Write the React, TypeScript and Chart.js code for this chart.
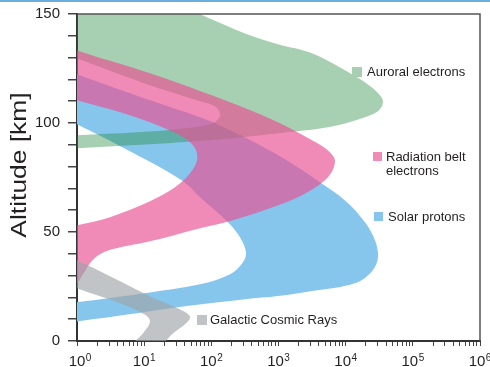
import React, { useEffect, useRef } from 'react';
import { Chart, registerables } from 'chart.js';

Chart.register(...registerables);

// ---------- data ----------
const SERIES_NAMES = ['Auroral electrons', 'Radiation belt electrons', 'Solar protons', 'Galactic Cosmic Rays'];
const LEGEND_TEXT = [['Auroral electrons'], ['Radiation belt', 'electrons'], ['Solar protons'], ['Galactic Cosmic Rays']];

// outlines of each band (energy flux in x, altitude in km) traced around the region
const auroralX = [0.28, 17, 68, 317, 983, 3150, 9770, 21500, 32400, 36000, 30300, 17500, 5460, 983, 135, 12.2, 1, 0.4, 0.4, 1, 7.8, 43, 95, 126, 135, 113, 68, 12.2, 1, 0.4];
const auroralY = [165, 157.6, 149.9, 141.1, 136.1, 132.0, 124.2, 117.7, 112.7, 109.5, 105.4, 102.2, 98.0, 95.3, 92.5, 90.2, 88.4, 88.0, 94.0, 94.4, 95.7, 97.6, 99.4, 101.7, 104.4, 107.7, 110.0, 117.3, 129.7, 134.3];

const radBeltX = [0.4, 1, 12.2, 190, 1050, 3150, 5460, 6940, 5270, 2090, 674, 210, 68, 12.2, 3.7, 2.2, 1.56, 1.23, 0.97, 0.4, 0.4, 1, 3.1, 12.2, 28.8, 48.1, 61.2, 57.1, 40.5, 17.2, 4.4, 1, 0.4];
const radBeltY = [137.9, 133.3, 122.8, 109.5, 99.9, 92.1, 87.4, 82.4, 74.6, 66.4, 60.4, 55.4, 51.7, 45.7, 42.4, 39.8, 35.7, 30.6, 26.5, 25.1, 50.8, 53.1, 56.8, 64.1, 70.5, 76.9, 82.9, 88.4, 93.0, 98.5, 104.9, 110.4, 114.5];

const solarX = [0.4, 1, 12.2, 68, 190, 530, 1480, 3740, 9770, 19400, 27300, 30300, 24700, 13800, 3150, 983, 317, 43, 7.8, 1, 0.4, 0.4, 1, 12.2, 68, 190, 296, 328, 267, 177, 68, 38, 6.15, 1, 0.4];
const solarY = [126.9, 122.4, 110.4, 102.6, 96.7, 89.8, 82.0, 73.7, 64.5, 54.5, 46.2, 38.4, 32.0, 26.5, 22.9, 20.6, 19.2, 16.0, 12.7, 9.0, 7.7, 16.4, 17.8, 22.3, 26.0, 30.6, 36.1, 40.7, 47.6, 54.5, 65.9, 73.3, 87.0, 99.4, 104.9];

const gcrX = [0.4, 1, 3.1, 12.2, 31.9, 48.1, 42, 26, 17.2, 6.8, 9.6, 12.2, 10.6, 4.4, 1, 0.4];
const gcrY = [42.4, 37.0, 29.7, 20.5, 14.9, 11.3, 8.1, 3.1, -1.9, -1.9, 3.6, 8.6, 11.8, 17.3, 24.2, 29.7];

const X_DECADES = [1, 10, 100, 1000, 10000, 100000, 1000000];
const X_TICK_BASE = '10';
const X_TICK_EXPONENTS = ['0', '1', '2', '3', '4', '5', '6'];
const Y_TICK_LABELS = [0, 50, 100, 150];
const Y_TITLE = 'Altitude [km]';

// ---------- style ----------
const FONT = "'Liberation Sans', Arial, Helvetica, sans-serif";
const TEXT = '#231f20';
const SOLO = ['rgb(167,208,178)', 'rgb(240,138,182)', 'rgb(134,198,236)', 'rgb(192,196,198)'];
const FILLS = ['rgba(35,137,62,0.4)', 'rgba(233,80,146,0.67)', 'rgb(134,198,236)', 'rgba(158,164,167,0.65)'];
const ORDER = [2, 1, 3, 0];
const LEGEND_POS = [
  { sq: [352, 67, 10], tx: [367, 72] },
  { sq: [373, 152, 9], tx: [386, 157] },
  { sq: [374, 212, 9], tx: [388, 217] },
  { sq: [197, 315, 10], tx: [210, 320] },
];

const toPoints = (xs: number[], ys: number[]) => xs.map((x, i) => ({ x, y: ys[i] }));
const SHAPES = [
  toPoints(auroralX, auroralY),
  toPoints(radBeltX, radBeltY),
  toPoints(solarX, solarY),
  toPoints(gcrX, gcrY),
];

const overlay = {
  id: 'overlay',
  afterDraw(chart: any) {
    const { ctx, chartArea: a } = chart;
    ctx.save();
    ctx.strokeStyle = '#555';
    ctx.lineWidth = 1.5;
    ctx.beginPath();
    ctx.moveTo(a.left, a.top);
    ctx.lineTo(a.right, a.top);
    ctx.lineTo(a.right, a.bottom);
    ctx.stroke();

    // legend
    ctx.font = `13px ${FONT}`;
    ctx.textBaseline = 'middle';
    ctx.textAlign = 'left';
    LEGEND_TEXT.forEach((lines, i) => {
      const p = LEGEND_POS[i];
      ctx.fillStyle = SOLO[i];
      ctx.fillRect(p.sq[0], p.sq[1], p.sq[2], p.sq[2]);
      ctx.fillStyle = TEXT;
      lines.forEach((ln, j) => ctx.fillText(ln, p.tx[0], p.tx[1] + j * 14));
    });

    // x tick labels with exponents
    const xs = chart.scales.x;
    ctx.textBaseline = 'alphabetic';
    ctx.fillStyle = TEXT;
    X_DECADES.forEach((d, i) => {
      const px = xs.getPixelForValue(d);
      ctx.font = `15px ${FONT}`;
      const w = ctx.measureText(X_TICK_BASE).width;
      ctx.font = `10px ${FONT}`;
      const we = ctx.measureText(X_TICK_EXPONENTS[i]).width;
      const x0 = px - (w + 0.5 + we) / 2 + (i === 0 ? 3 : 0);
      ctx.fillText(X_TICK_EXPONENTS[i], x0 + w + 0.5, 361);
      ctx.font = `15px ${FONT}`;
      ctx.fillText(X_TICK_BASE, x0, 366);
    });

    // y title
    ctx.translate(20, 165);
    ctx.rotate(-Math.PI / 2);
    ctx.scale(1.2, 1);
    ctx.textAlign = 'center';
    ctx.textBaseline = 'middle';
    ctx.font = `22px ${FONT}`;
    ctx.fillText(Y_TITLE, 0, 0);
    ctx.restore();
  },
};

export default function App() {
  const ref = useRef<HTMLCanvasElement>(null);
  useEffect(() => {
    if (!ref.current) return;
    Chart.defaults.font.family = FONT;
    const chart = new Chart(ref.current, {
      type: 'scatter',
      data: {
        datasets: SERIES_NAMES.map((name, i) => ({
          label: name,
          data: SHAPES[i],
          showLine: true,
          fill: 'shape',
          backgroundColor: FILLS[i],
          borderColor: 'rgba(0,0,0,0)',
          borderWidth: 0,
          pointRadius: 0,
          pointHoverRadius: 0,
          tension: 0.35,
          order: ORDER[i],
        })),
      },
      options: {
        responsive: false,
        animation: false,
        devicePixelRatio: 1,
        events: [],
        layout: { padding: { left: 0, top: 14, right: 10, bottom: 0 } },
        elements: { line: { capBezierPoints: false } },
        plugins: { legend: { display: false }, tooltip: { enabled: false } },
        scales: {
          x: {
            type: 'logarithmic',
            min: 1,
            max: 1000000,
            afterBuildTicks(scale: any) {
              const t: any[] = [];
              X_DECADES.forEach((d, i) => {
                t.push({ value: d, major: true });
                if (i < X_DECADES.length - 1) for (let m = 2; m <= 9; m++) t.push({ value: m * d });
              });
              scale.ticks = t;
            },
            afterFit(scale: any) {
              scale.height = 26;
              scale.paddingLeft = 0;
              scale.paddingRight = 0;
            },
            grid: { drawOnChartArea: false, drawTicks: true, tickLength: 5, color: '#444', lineWidth: 1 },
            border: { display: true, color: '#333', width: 2 },
            ticks: {
              autoSkip: false,
              maxRotation: 0,
              minRotation: 0,
              padding: 4,
              color: TEXT,
              font: { size: 15 },
              callback: () => '',
            },
          },
          y: {
            type: 'linear',
            min: 0,
            max: 150,
            afterFit(scale: any) {
              scale.width = 77;
              scale.paddingTop = 0;
              scale.paddingBottom = 0;
            },
            grid: { drawOnChartArea: false, drawTicks: true, tickLength: 9, color: '#444', lineWidth: 1.5 },
            border: { display: true, color: '#333', width: 2 },
            ticks: {
              stepSize: 10,
              padding: 8,
              color: TEXT,
              font: { size: 15 },
              callback: (v: any) => (Y_TICK_LABELS.includes(Number(v)) ? String(v) : ''),
            },
          },
        },
      },
      plugins: [overlay],
    } as any);
    return () => chart.destroy();
  }, []);
  return (
    <div style={{ position: 'fixed', left: 0, top: 0, width: 490, height: 367, background: '#fff', overflow: 'hidden' }}>
      <div style={{ position: 'absolute', left: 0, top: 0, width: 490, height: 2, background: '#6aaee0' }} />
      <canvas ref={ref} width={490} height={367} style={{ display: 'block', width: 490, height: 367 }} />
    </div>
  );
}
